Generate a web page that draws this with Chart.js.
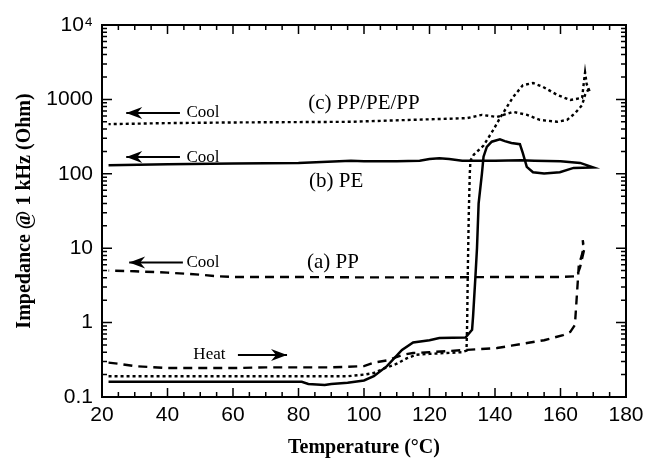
<!DOCTYPE html>
<html>
<head>
<meta charset="utf-8">
<script src="https://cdn.jsdelivr.net/npm/chart.js@4.4.0/dist/chart.umd.min.js"></script>
<style>
html,body{margin:0;padding:0;background:#fff;}
#wrap{width:650px;height:463px;}
</style>
</head>
<body>
<div id="wrap"><canvas id="c" width="650" height="463"></canvas></div>
<script>
// (a) PP : heating then cooling
const ppTemp = [22,25,30,40,50,60,70,80,90,100,103,107,112,115,120,131.5,135,140.6,145,150.7,155,160.8,163,164.4,165.3,165.6,166.5,167,166.8,167.2,166.5,166,165,160,140,120,100,80,60,55,50,40,30,22];
const ppImp  = [0.29,0.28,0.26,0.245,0.245,0.245,0.25,0.25,0.25,0.26,0.29,0.31,0.37,0.39,0.40,0.43,0.44,0.455,0.49,0.54,0.58,0.68,0.75,0.93,3.7,6,8,10,12.8,9.5,7,5.6,4.2,4.1,4.1,4.05,4.05,4.1,4.1,4.2,4.4,4.7,4.9,5.0];
// (b) PE : heating then cooling
const peTemp = [22,40,60,81,83,88,90,95,100,103,107,111.6,115,120,123,131,133,133.3,134,134.5,135,136,136.5,137.5,139,141.5,143,145,147.6,148.5,149.7,151.6,155,159.8,164,170,166,160,152,148,140,130,126,123,120,117,110,100,96,80,60,40,22];
const peImp  = [0.16,0.16,0.16,0.16,0.15,0.145,0.15,0.155,0.167,0.19,0.26,0.43,0.54,0.58,0.62,0.63,0.8,1.2,4,10,40,100,170,230,270,290,275,260,250,190,124,105,101,105,120,122,140,148,150,152,150,150,158,162,158,150,148,147,150,140,138,134,130];
// (c) PP/PE/PP : heating then cooling
const triTemp = [22,40,60,80,95,100,103,106,110,113,116,120,125,130,131.3,131.5,131.7,132,132.3,132.5,133.5,136.5,139.5,141.5,145.5,148.5,151.6,154.7,159,163,166.6,167.2,167.5,168,169,168.4,167.5,166.6,164.4,162,159,153.7,149.8,145.5,140.6,136,131.5,111,96,60,40,22];
const triImp  = [0.19,0.19,0.19,0.19,0.19,0.2,0.21,0.24,0.28,0.33,0.37,0.38,0.39,0.40,0.42,1,5,30,100,150,180,240,390,560,1070,1550,1660,1470,1150,980,1050,1800,2300,1600,1250,1340,1150,840,650,530,500,530,620,680,580,620,560,525,500,490,480,465];
// axis ticks
const xTicks = [20,40,60,80,100,120,140,160,180];
const yTicks = [0.1,1,10,100,1000,10000];
const yTickLabels = ['0.1','1','10','100','1000','10\u2074'];

// annotations in data units
const labels = [
  {text:'(c) PP/PE/PP', x:100, y:870, align:'center', size:21},
  {text:'(b) PE', x:91.5, y:80, align:'center', size:21},
  {text:'(a) PP', x:90.5, y:6.5, align:'center', size:21},
  {text:'Cool', x:45.8, y:656, align:'left', size:17},
  {text:'Cool', x:45.8, y:168, align:'left', size:17},
  {text:'Cool', x:45.8, y:6.4, align:'left', size:17},
  {text:'Heat', x:52.8, y:0.367, align:'center', size:17}
];
const arrows = [
  {x0:43.8, x1:27.4, y:656},
  {x0:43.8, x1:27.4, y:168},
  {x0:44.7, x1:28.3, y:6.4},
  {x0:61.5, x1:76.5, y:0.367}
];

const pts = (xs, ys) => xs.map((t,i)=>({x:t, y:ys[i]}));

const framePlugin = {
  id:'frame',
  afterDraw(chart){
    const {ctx, chartArea:a, scales:{x, y}} = chart;
    ctx.save();
    ctx.strokeStyle='#000';
    ctx.lineWidth=1.5;
    ctx.beginPath();
    for(let t=20;t<=180;t+=5){
      const px=x.getPixelForValue(t);
      const L = (t%20===0)?9:5;
      ctx.moveTo(px,a.bottom); ctx.lineTo(px,a.bottom-L);
      ctx.moveTo(px,a.top); ctx.lineTo(px,a.top+L);
    }
    for(let d=-1; d<4; d++){
      for(let m=1;m<=9;m++){
        const v=m*Math.pow(10,d);
        const py=y.getPixelForValue(v);
        const L=(m===1)?10:5;
        ctx.moveTo(a.left,py); ctx.lineTo(a.left+L,py);
        ctx.moveTo(a.right,py); ctx.lineTo(a.right-L,py);
      }
    }
    ctx.stroke();
    ctx.lineWidth=2;
    ctx.strokeRect(a.left,a.top,a.right-a.left,a.bottom-a.top);
    ctx.lineWidth=2;
    arrows.forEach(ar=>{
      const x0=x.getPixelForValue(ar.x0), x1=x.getPixelForValue(ar.x1), py=y.getPixelForValue(ar.y);
      const dir = Math.sign(x1-x0);
      ctx.beginPath();
      ctx.moveTo(x0,py); ctx.lineTo(x1,py); ctx.stroke();
      ctx.beginPath();
      ctx.moveTo(x1,py); ctx.lineTo(x1-dir*16,py-6); ctx.lineTo(x1-dir*11,py); ctx.lineTo(x1-dir*16,py+6); ctx.closePath();
      ctx.fillStyle='#000'; ctx.fill();
    });
    ctx.fillStyle='#000';
    ctx.textBaseline='middle';
    labels.forEach(l=>{
      ctx.font = l.size+'px "Liberation Serif", "Times New Roman", serif';
      ctx.textAlign=l.align;
      ctx.fillText(l.text, x.getPixelForValue(l.x), y.getPixelForValue(l.y));
    });
    ctx.restore();
  }
};

new Chart(document.getElementById('c'), {
  type:'scatter',
  data:{
    datasets:[
      {label:'(a) PP', data:pts(ppTemp,ppImp), showLine:true, borderColor:'#000', borderWidth:2.4, borderDash:[9,6], pointRadius:0, tension:0, fill:false},
      {label:'(b) PE', data:pts(peTemp,peImp), showLine:true, borderColor:'#000', borderWidth:2.5, pointRadius:0, tension:0, fill:false},
      {label:'(c) PP/PE/PP', data:pts(triTemp,triImp), showLine:true, borderColor:'#000', borderWidth:2.4, borderDash:[3,3], pointRadius:0, tension:0, fill:false}
    ]
  },
  options:{
    responsive:false,
    animation:false,
    devicePixelRatio:1,
    layout:{padding:{left:0,right:24,top:25,bottom:0}},
    plugins:{legend:{display:false}, tooltip:{enabled:false}},
    scales:{
      x:{
        type:'linear', min:20, max:180,
        afterBuildTicks(s){ s.ticks = xTicks.map(v=>({value:v})); },
        afterFit(s){ s.height = 66; },
        grid:{display:false, drawTicks:false}, border:{display:false},
        ticks:{color:'#000', padding:6, maxRotation:0, font:{family:'"Liberation Sans", Arial, sans-serif', size:21}},
        title:{display:true, text:'Temperature (\u00B0C)', color:'#000', padding:{top:0,bottom:3}, font:{family:'"Liberation Serif", "Times New Roman", serif', size:20, weight:'bold'}}
      },
      y:{
        type:'logarithmic', min:0.1, max:10000,
        afterBuildTicks(s){ s.ticks = yTicks.map(v=>({value:v})); },
        afterFit(s){ s.width = 102; },
        grid:{display:false, drawTicks:false}, border:{display:false},
        ticks:{color:'#000', padding:9, callback:(v)=>{const i=yTicks.indexOf(v); return i>=0?yTickLabels[i]:'';}, font:{family:'"Liberation Sans", Arial, sans-serif', size:21}},
        title:{display:true, text:'Impedance @ 1 kHz (Ohm)', color:'#000', padding:{top:13,bottom:0}, font:{family:'"Liberation Serif", "Times New Roman", serif', size:20, weight:'bold'}}
      }
    }
  },
  plugins:[framePlugin]
});
</script>
</body>
</html>
